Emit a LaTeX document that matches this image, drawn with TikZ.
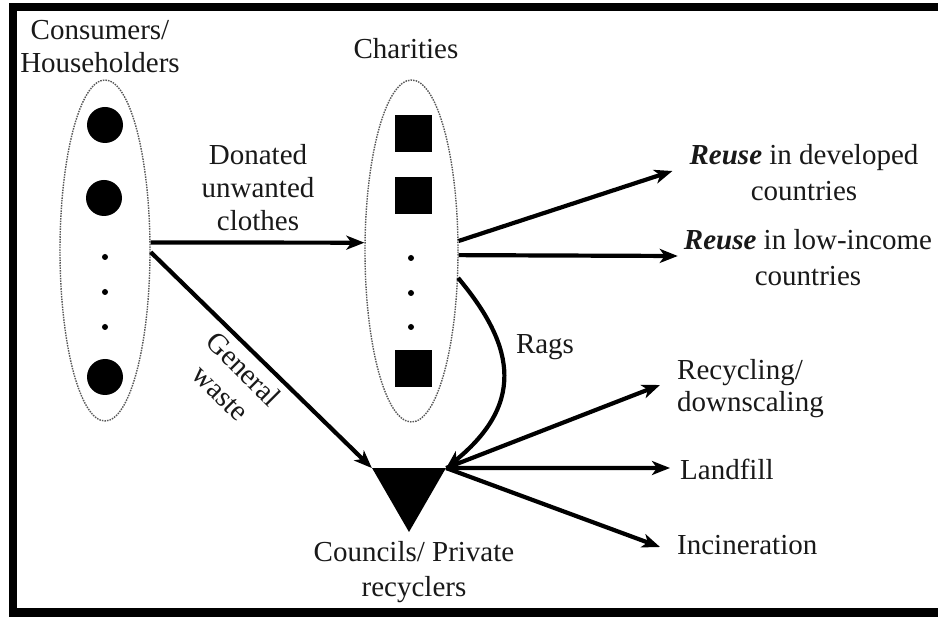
\documentclass[tikz,border=0pt]{standalone}
\usepackage{fontspec}
\setmainfont{Liberation Serif}
\usetikzlibrary{shapes.geometric,arrows.meta,calc}
\begin{document}
\begin{tikzpicture}[x=1pt,y=-1pt,
  lbl/.style={font=\fontsize{29}{33}\selectfont, text=black!90, align=center, inner sep=0pt},
  grp/.style={ellipse, draw=black!65, line width=1.4pt, dash pattern=on 1.5pt off 1.1pt, inner sep=0pt},
  flow/.style={line width=4.2pt, -{Stealth[length=18pt,width=14pt,inset=5pt]}},
  person/.style={circle, fill=black, minimum size=36pt, inner sep=0pt},
  org/.style={rectangle, fill=black, minimum size=37pt, inner sep=0pt},
  dotn/.style={circle, fill=black, minimum size=6pt, inner sep=0pt}]
\clip (0,0) rectangle (938,617);
\fill[white] (0,0) rectangle (938,617);
\draw[line width=8pt] (13,7) rectangle (942,612.5);

% groups
\node[grp, minimum width=90pt, minimum height=341pt] (cons) at (105,250.5) {};
\node[grp, minimum width=93pt, minimum height=342pt] (char) at (411.5,251) {};

\node[person] (p1) at (105,125) {};
\node[person] (p2) at (104,198) {};
\node[dotn] (pd1) at (105,257) {};
\node[dotn] (pd2) at (105,292) {};
\node[dotn] (pd3) at (105,327) {};
\node[person] (p3) at (105,377) {};

\node[org] (c1) at (413,134) {};
\node[org] (c2) at (413,195.5) {};
\node[dotn] (cd1) at (411,258) {};
\node[dotn] (cd2) at (411,293) {};
\node[dotn] (cd3) at (411,327) {};
\node[org] (c3) at (413,368.5) {};

% triangle
\node[regular polygon, regular polygon sides=3, shape border rotate=180, fill=black,
      minimum size=85pt, inner sep=0pt] (tri) at (409,489.5) {};

% labels
\node[lbl] (lcons) at (100,47) {Consumers/\\Householders};
\node[lbl] (lchar) at (406,49) {Charities};
\node[lbl] (ldon) at (258,188) {Donated\\unwanted\\clothes};
\node[lbl, rotate=-45] (lgen1) at (244,369) {General};
\node[lbl, rotate=-45] (lgen2) at (220,394) {waste};
\node[lbl] (lrags) at (545,347) {Rags};
\node[lbl, font=\fontsize{29}{35}\selectfont] (lcoun) at (414,572) {Councils/ Private\\recyclers};

\node[lbl, font=\fontsize{29}{36}\selectfont] (reuse1) at (804,173) {\textbf{\textit{Reuse}} in developed\\countries};
\node[lbl, font=\fontsize{29}{36}\selectfont] (reuse2) at (808,258) {\textbf{\textit{Reuse}} in low-income\\countries};
\node[lbl, align=left, anchor=west, font=\fontsize{29}{32}\selectfont] (recyc) at (677,389) {Recycling/\\downscaling};
\node[lbl, anchor=west] (landf) at (680,469) {Landfill};
\node[lbl, anchor=west] (incin) at (677,545) {Incineration};

% connectors
\draw[flow] (cons.10) -- (char.170);
\draw[flow] (cons.-2) -- (tri.150);
\draw[flow] (char.-30) .. controls (510,340) and (530,400) .. (tri.30);
\draw[flow] (char.12) -- ($(reuse1.west)+(-17,-2)$);
\draw[flow] (char.-5) -- ($(reuse2.west)+(-6,-2)$);
\draw[flow] (tri.30) -- ($(recyc.west)+(-17,-4)$);
\draw[flow] (tri.30) -- ($(landf.west)+(-10,-1)$);
\draw[flow] (tri.30) -- ($(incin.west)+(-17,2)$);
\end{tikzpicture}
\end{document}
